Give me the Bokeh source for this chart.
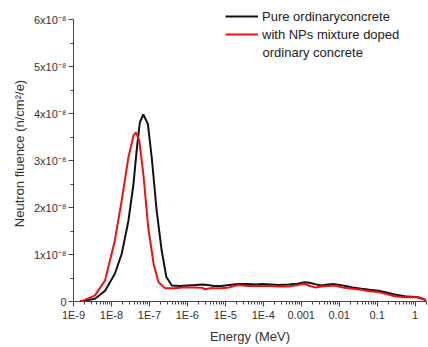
from bokeh.plotting import figure
from bokeh.models import FixedTicker, CustomJSTickFormatter, Legend, LegendItem, Label
from bokeh.embed import file_html
from bokeh.resources import INLINE

# Pure ordinary concrete (energy MeV, fluence)
pure_energy = [1.5e-9, 1.8e-9, 3.7e-9, 6.8e-9, 1.23e-8, 1.86e-8, 2.8e-8, 3.8e-8, 4.7e-8, 5.6e-8,
               6.9e-8, 9.1e-8, 1.15e-7, 1.55e-7, 2.1e-7, 2.8e-7, 3.9e-7, 6.3e-7, 1e-6, 1.6e-6,
               2.5e-6, 3.5e-6, 5e-6, 7.9e-6, 1.26e-5, 2.2e-5, 4e-5, 6.3e-5, 9.1e-5, 1.6e-4,
               2.5e-4, 4.6e-4, 7.9e-4, 1.23e-3, 1.66e-3, 2.3e-3, 3.4e-3, 5e-3, 7.6e-3, 0.0126,
               0.0224, 0.039, 0.063, 0.107, 0.178, 0.29, 0.54, 1.2, 1.58, 2.0]
pure_flu = [0.0, 0.01e-8, 0.06e-8, 0.23e-8, 0.59e-8, 1.01e-8, 1.72e-8, 2.5e-8, 3.28e-8, 3.81e-8,
            3.98e-8, 3.78e-8, 3.07e-8, 1.94e-8, 1.09e-8, 0.52e-8, 0.34e-8, 0.33e-8, 0.34e-8, 0.35e-8,
            0.36e-8, 0.35e-8, 0.33e-8, 0.33e-8, 0.35e-8, 0.37e-8, 0.37e-8, 0.36e-8, 0.37e-8, 0.36e-8,
            0.35e-8, 0.36e-8, 0.38e-8, 0.41e-8, 0.40e-8, 0.37e-8, 0.34e-8, 0.36e-8, 0.37e-8, 0.34e-8,
            0.30e-8, 0.27e-8, 0.25e-8, 0.23e-8, 0.19e-8, 0.15e-8, 0.11e-8, 0.09e-8, 0.06e-8, 0.02e-8]

# With NPs mixture doped ordinary concrete
np_energy = [1.5e-9, 1.8e-9, 3.7e-9, 6.8e-9, 1.23e-8, 1.86e-8, 2.8e-8, 3.8e-8, 4.4e-8, 5.4e-8,
             6.9e-8, 9.3e-8, 1.29e-7, 1.74e-7, 2.6e-7, 4.7e-7, 7.1e-7, 1e-6, 1.6e-6, 2.5e-6,
             2.9e-6, 4e-6, 7.9e-6, 1.26e-5, 2.2e-5, 4e-5, 9.1e-5, 1.6e-4, 2.5e-4, 4.6e-4,
             7.9e-4, 1.23e-3, 1.66e-3, 2.3e-3, 3.4e-3, 7.6e-3, 0.0126, 0.0224, 0.039, 0.063,
             0.107, 0.178, 0.29, 0.54, 1.2, 1.58, 2.0]
np_flu = [0.0, 0.02e-8, 0.13e-8, 0.45e-8, 1.3e-8, 2.15e-8, 3.07e-8, 3.53e-8, 3.6e-8, 3.43e-8,
          2.72e-8, 1.58e-8, 0.8e-8, 0.41e-8, 0.28e-8, 0.28e-8, 0.30e-8, 0.30e-8, 0.30e-8, 0.29e-8,
          0.26e-8, 0.28e-8, 0.28e-8, 0.30e-8, 0.35e-8, 0.33e-8, 0.33e-8, 0.33e-8, 0.32e-8, 0.32e-8,
          0.35e-8, 0.38e-8, 0.33e-8, 0.30e-8, 0.32e-8, 0.34e-8, 0.30e-8, 0.27e-8, 0.25e-8, 0.22e-8,
          0.20e-8, 0.16e-8, 0.11e-8, 0.09e-8, 0.09e-8, 0.05e-8, 0.02e-8]

x_major = [1e-9, 1e-8, 1e-7, 1e-6, 1e-5, 1e-4, 1e-3, 1e-2, 1e-1, 1.0]
y_major = [0, 1e-8, 2e-8, 3e-8, 4e-8, 5e-8, 6e-8]
y_minor = [0.5e-8, 1.5e-8, 2.5e-8, 3.5e-8, 4.5e-8, 5.5e-8]

series_labels = ["Pure ordinaryconcrete", "with NPs mixture doped", " ordinary concrete"]

FONT = "Liberation Sans"
AX = "#444444"

p = figure(width=428, height=347, x_axis_type="log", x_range=(1e-9, 2.0), y_range=(0, 6.3e-8),
           output_backend="svg", toolbar_location=None,
           min_border_left=73, min_border_right=2, min_border_top=5, min_border_bottom=46)
p.outline_line_color = None
p.grid.visible = False
p.background_fill_color = "white"
p.border_fill_color = "white"

x_minor = [m * d for d in x_major for m in range(2, 10)]
p.xaxis.ticker = FixedTicker(ticks=x_major, minor_ticks=x_minor)
p.xaxis.formatter = CustomJSTickFormatter(code="""
const e = Math.round(Math.log10(tick));
if (e <= -4) { return "1E" + e; }
if (e == -3) { return "0.001"; }
if (e == -2) { return "0.01"; }
if (e == -1) { return "0.1"; }
return "1";
""")
p.yaxis.ticker = FixedTicker(ticks=y_major, minor_ticks=y_minor)
p.yaxis.bounds = (0, 6e-8)
p.yaxis.formatter = CustomJSTickFormatter(code="""
const n = Math.round(tick * 1e8);
if (n == 0) { return "0"; }
return n + "x10\u207B\u2078";
""")

for ax in (p.xaxis[0], p.yaxis[0]):
    ax.axis_line_color = AX
    ax.major_tick_line_color = AX
    ax.minor_tick_line_color = AX
    ax.major_tick_out = 5
    ax.major_tick_in = 0
    ax.minor_tick_out = 3
    ax.minor_tick_in = 0
    ax.major_label_text_font = FONT
    ax.major_label_text_font_size = "11px"
    ax.major_label_text_color = "#333333"
    ax.major_label_standoff = 2
    ax.axis_label_text_font = FONT
    ax.axis_label_text_font_size = "13px"
    ax.axis_label_text_font_style = "normal"
    ax.axis_label_text_color = "#333333"

p.xaxis.axis_label = "Energy (MeV)"
p.yaxis.axis_label = "Neutron fluence (n/cm\u00B2/e)"
p.xaxis.axis_label_standoff = 5
p.yaxis.axis_label_standoff = 4

r1 = p.line(pure_energy, pure_flu, line_color="#111111", line_width=2)
r2 = p.line(np_energy, np_flu, line_color="#ee1111", line_width=2)

legend = Legend(items=[LegendItem(label=series_labels[0], renderers=[r1]),
                       LegendItem(label=series_labels[1], renderers=[r2])],
                location=(152, 258))
legend.background_fill_alpha = 0
legend.border_line_color = None
legend.label_text_font = FONT
legend.label_text_font_size = "13px"
legend.label_text_color = "#222222"
legend.glyph_width = 33
legend.glyph_height = 18
legend.label_height = 18
legend.label_standoff = 4
legend.padding = 0
legend.spacing = 0
legend.margin = 0
p.add_layout(legend)

p.add_layout(Label(x=189, y=249, x_units="screen", y_units="screen", text=series_labels[2],
                   text_font=FONT, text_font_size="13px", text_color="#222222",
                   text_baseline="middle"))

open("out.html", "w").write(file_html(p, INLINE))
